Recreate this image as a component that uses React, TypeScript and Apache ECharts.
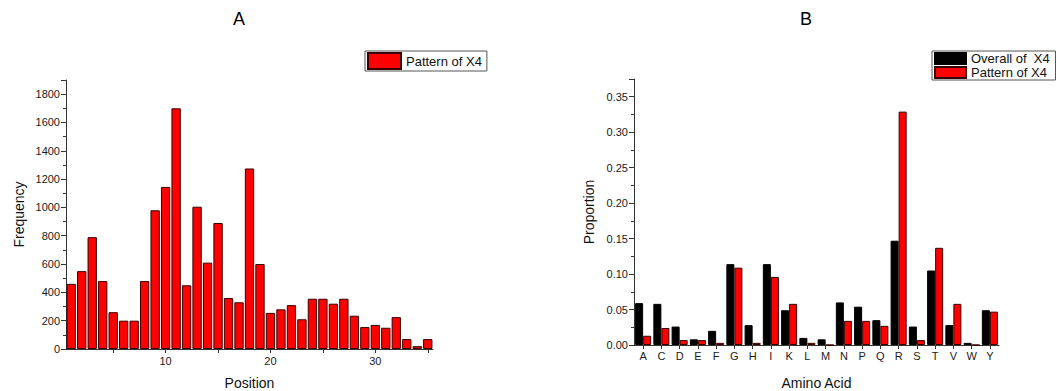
import React, { useEffect, useRef } from "react";
import * as echarts from "echarts";

const positions = ["1","2","3","4","5","6","7","8","9","10","11","12","13","14","15","16","17","18","19","20","21","22","23","24","25","26","27","28","29","30","31","32","33","34","35"];
const frequency = [460,550,790,480,260,200,200,480,980,1145,1700,450,1005,610,890,360,330,1275,600,255,280,310,210,355,355,320,355,235,155,170,150,225,70,20,70];

const aminoAcids = ["A","C","D","E","F","G","H","I","K","L","M","N","P","Q","R","S","T","V","W","Y"];
const overallX4 = [0.059,0.058,0.026,0.008,0.020,0.114,0.028,0.114,0.049,0.010,0.008,0.060,0.054,0.035,0.147,0.026,0.105,0.028,0.003,0.049];
const patternX4 = [0.013,0.024,0.007,0.007,0.003,0.109,0.003,0.096,0.058,0.003,0,0.034,0.034,0.027,0.329,0.007,0.137,0.058,0,0.047];

const FONT = "Liberation Sans, Arial, sans-serif";
const AXIS_COLOR = "#333";

export default function App() {
  const ref = useRef<HTMLDivElement>(null);
  useEffect(() => {
    if (!ref.current) return;
    const chart = echarts.init(ref.current, null, { renderer: "svg" });
    const axisLine = { show: true, lineStyle: { color: AXIS_COLOR, width: 1 } };
    const labelStyle = { color: "#1a1a1a", fontSize: 11, fontFamily: FONT };
    const nameStyle = { color: "#111", fontSize: 14, fontFamily: FONT };
    chart.setOption({
      animation: false,
      backgroundColor: "#fff",
      textStyle: { fontFamily: FONT },
      graphic: [
        { type: "text", x: 239, y: 19, style: { text: "A", fill: "#000", font: `18px ${FONT}`, align: "center", verticalAlign: "middle" } },
        { type: "text", x: 806, y: 19, style: { text: "B", fill: "#000", font: `18px ${FONT}`, align: "center", verticalAlign: "middle" } },
      ],
      legend: [
        {
          data: ["Pattern of X4"],
          left: 365,
          top: 51,
          icon: "rect",
          itemWidth: 33,
          itemHeight: 16,
          padding: [1, 5, 1, 2],
          borderColor: "#555",
          borderWidth: 1,
          textStyle: { fontSize: 13, color: "#111", fontFamily: FONT },
          selectedMode: false,
        },
        {
          data: ["Overall of  X4", "Pattern of X4 "],
          orient: "vertical",
          left: 932,
          top: 51,
          icon: "rect",
          itemWidth: 31,
          itemHeight: 11,
          itemGap: 1,
          padding: [1, 5, 1, 2],
          borderColor: "#555",
          borderWidth: 1,
          textStyle: { fontSize: 13, lineHeight: 12, color: "#111", fontFamily: FONT },
          selectedMode: false,
        },
      ],
      grid: [
        { left: 66, top: 80, width: 367, height: 269, containLabel: false, outerBoundsMode: "none" },
        { left: 634, top: 79, width: 365, height: 266, containLabel: false, outerBoundsMode: "none" },
      ],
      xAxis: [
        {
          type: "category",
          gridIndex: 0,
          data: positions,
          boundaryGap: true,
          axisLine,
          axisTick: { show: true, alignWithLabel: true, length: 4, interval: (i: number) => (i + 1) % 5 === 0, lineStyle: { color: AXIS_COLOR } },
          axisLabel: { ...labelStyle, margin: 6, interval: (i: number) => (i + 1) % 10 === 0 },
          name: "Position",
          nameLocation: "middle",
          nameGap: 27,
          nameTextStyle: nameStyle,
        },
        {
          type: "category",
          gridIndex: 1,
          data: aminoAcids,
          boundaryGap: true,
          axisLine,
          axisTick: { show: true, alignWithLabel: true, length: 4, lineStyle: { color: AXIS_COLOR } },
          axisLabel: { ...labelStyle, margin: 5, interval: 0 },
          name: "Amino Acid",
          nameLocation: "middle",
          nameGap: 31,
          nameTextStyle: nameStyle,
        },
      ],
      yAxis: [
        {
          type: "value",
          gridIndex: 0,
          min: 0,
          max: 1900,
          interval: 200,
          axisLine,
          axisTick: { show: true, length: 5, lineStyle: { color: AXIS_COLOR } },
          minorTick: { show: true, splitNumber: 2, length: 3, lineStyle: { color: AXIS_COLOR } },
          splitLine: { show: false },
          axisLabel: { ...labelStyle, margin: 6, showMaxLabel: false, formatter: (v: number) => String(v) },
          name: "Frequency",
          nameLocation: "middle",
          nameGap: 40,
          nameRotate: 90,
          nameTextStyle: nameStyle,
        },
        {
          type: "value",
          gridIndex: 1,
          min: 0,
          max: 0.375,
          interval: 0.05,
          axisLine,
          axisTick: { show: true, length: 5, lineStyle: { color: AXIS_COLOR } },
          minorTick: { show: true, splitNumber: 2, length: 3, lineStyle: { color: AXIS_COLOR } },
          splitLine: { show: false },
          axisLabel: { ...labelStyle, margin: 6, showMaxLabel: false, formatter: (v: number) => v.toFixed(2) },
          name: "Proportion",
          nameLocation: "middle",
          nameGap: 38,
          nameRotate: 90,
          nameTextStyle: nameStyle,
        },
      ],
      series: [
        {
          name: "Pattern of X4",
          type: "bar",
          xAxisIndex: 0,
          yAxisIndex: 0,
          data: frequency,
          barCategoryGap: "11%",
          itemStyle: { color: "#ff0000", borderColor: "#3a0000", borderWidth: 1 },
        },
        {
          name: "Overall of  X4",
          type: "bar",
          xAxisIndex: 1,
          yAxisIndex: 1,
          data: overallX4,
          barCategoryGap: "12%",
          barGap: "0%",
          itemStyle: { color: "#000000", borderColor: "#000000", borderWidth: 1 },
        },
        {
          name: "Pattern of X4 ",
          type: "bar",
          xAxisIndex: 1,
          yAxisIndex: 1,
          data: patternX4,
          barCategoryGap: "12%",
          barGap: "0%",
          itemStyle: { color: "#ff0000", borderColor: "#3a0000", borderWidth: 1 },
        },
      ],
    });
    return () => chart.dispose();
  }, []);
  return <div ref={ref} style={{ position: "fixed", left: 0, top: 0, width: 1063, height: 391 }} />;
}
